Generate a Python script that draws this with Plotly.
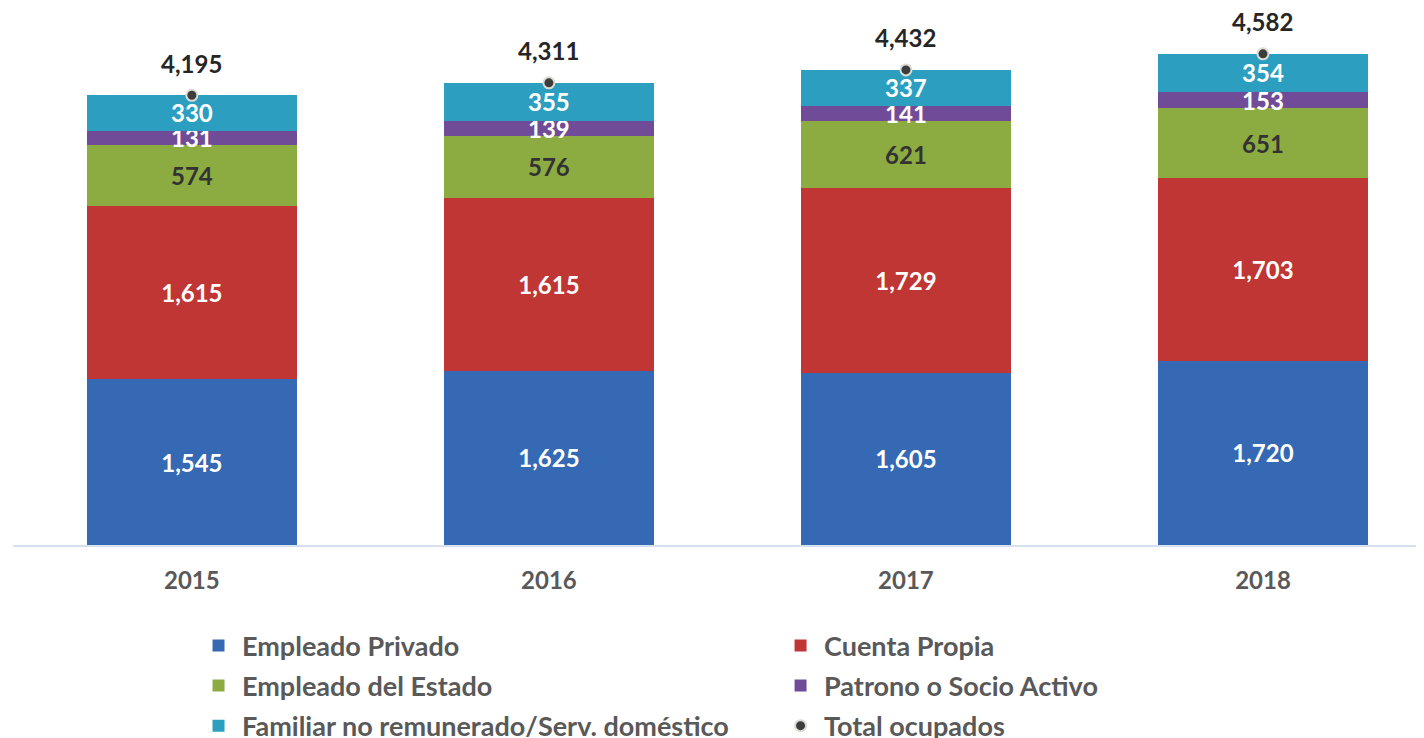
import plotly.graph_objects as go

years = ["2015", "2016", "2017", "2018"]
empleado_privado = [1545, 1625, 1605, 1720]
cuenta_propia = [1615, 1615, 1729, 1703]
empleado_estado = [574, 576, 621, 651]
patrono = [131, 139, 141, 153]
familiar = [330, 355, 337, 354]
total_ocupados = [4195, 4311, 4432, 4582]

FONT = "Lato"
series = [
    ("Empleado Privado", empleado_privado, "#3569b4", "white", "legend"),
    ("Cuenta Propia", cuenta_propia, "#bf3634", "white", "legend2"),
    ("Empleado del Estado", empleado_estado, "#8cac42", "#333333", "legend"),
    ("Patrono o Socio Activo", patrono, "#704c98", "white", "legend2"),
    ("Familiar no remunerado/Serv. doméstico", familiar, "#2c9fc0", "white", "legend"),
]

fig = go.Figure()
for name, vals, color, tcolor, lg in series:
    fig.add_trace(go.Bar(
        x=years, y=vals, name=name, marker=dict(color=color, line=dict(width=0)),
        width=0.59, texttemplate="%{y:,}", textposition="inside",
        insidetextanchor="middle", constraintext="none", textangle=0,
        textfont=dict(family=FONT, size=24, color=tcolor, weight="bold"),
        legend=lg, legendgroup=name, hoverinfo="skip",
    ))

fig.add_trace(go.Scatter(
    x=years, y=total_ocupados, name="Total ocupados", mode="markers",
    marker=dict(color="#3d3d3d", size=11, line=dict(color="#dcdcd4", width=2)),
    legend="legend2", legendgroup="total", hoverinfo="skip",
))

for i, t in enumerate(total_ocupados):
    fig.add_annotation(x=i, y=t, xref="x", yref="y", text=f"{t:,}",
                       showarrow=False, yshift=32,
                       font=dict(family=FONT, size=24, color="#262626", weight="bold"))

legend_common = dict(
    orientation="v", yanchor="top", xanchor="left", traceorder="grouped",
    tracegroupgap=2, bgcolor="rgba(0,0,0,0)", itemwidth=37,
    font=dict(family=FONT, size=27, color="#595959", weight="bold"),
)

fig.update_layout(
    width=1416, height=730,
    margin=dict(l=5, r=0, t=1, b=193, autoexpand=False),
    barmode="stack",
    plot_bgcolor="white", paper_bgcolor="white",
    font=dict(family=FONT),
    xaxis=dict(type="category", range=[-0.501, 3.451], showgrid=False,
               showline=True, linecolor="#d5e1f1", linewidth=2, ticks="",
               ticklabelstandoff=13, automargin=False,
               tickfont=dict(family=FONT, size=24, color="#595959", weight="bold")),
    yaxis=dict(range=[0, 5000], visible=False, automargin=False),
    legend=dict(x=0.129, y=-0.1425, **legend_common),
    legend2=dict(x=0.5415, y=-0.1425, **legend_common),
)

fig.write_html("out.html")
